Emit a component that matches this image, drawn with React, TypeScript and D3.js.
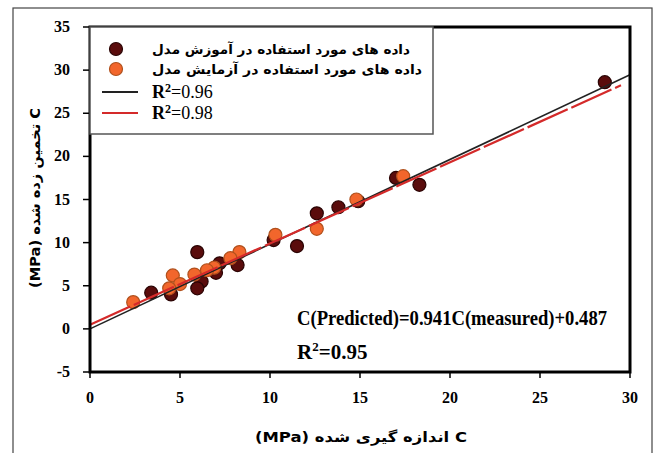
import React, { useEffect, useRef } from 'react';
import * as d3 from 'd3';

// training data (dark points)
const trainMeasured = [28.6, 18.3, 17.0, 14.9, 13.8, 12.6, 11.5, 10.2, 5.96, 8.2, 7.2, 7.0, 6.2, 5.96, 4.5, 3.4];
const trainPredicted = [28.6, 16.7, 17.5, 14.8, 14.1, 13.4, 9.6, 10.3, 8.9, 7.4, 7.6, 6.5, 5.5, 4.7, 4.0, 4.2];

// testing data (orange points)
const testMeasured = [17.4, 14.8, 12.6, 10.3, 8.3, 7.8, 6.9, 6.5, 5.8, 4.6, 5.0, 4.4, 2.4];
const testPredicted = [17.7, 15.0, 11.6, 10.9, 8.9, 8.2, 7.1, 6.8, 6.3, 6.2, 5.2, 4.7, 3.1];

// fit lines: [slope, intercept]
const trainFit = [0.982, 0.0];
const testFit = [0.941, 0.487];

const xTicks = [0, 5, 10, 15, 20, 25, 30];
const yTicks = [-5, 0, 5, 10, 15, 20, 25, 30, 35];

const legendLabels = [
  'داده های مورد استفاده در آموزش مدل',
  'داده های مورد استفاده در آزمایش مدل',
];
const legendR2 = ['0.96', '0.98'];

const xTitle = 'C اندازه گیری شده (MPa)';
const yTitle = 'C تخمین زده شده (MPa)';

const DARK = '#5a0c0c';
const DARK_EDGE = '#2a0404';
const ORANGE = '#f2662c';
const ORANGE_EDGE = '#b0501c';

export default function App() {
  const svgRef = useRef<SVGSVGElement>(null);

  useEffect(() => {
    if (!svgRef.current) return;
    const width = 657;
    const height = 453;
    const svg = d3.select(svgRef.current);
    svg.selectAll('*').remove();
    svg.attr('width', width).attr('height', height);

    const x = d3.scaleLinear().domain([0, 30]).range([90, 630]);
    const y = d3.scaleLinear().domain([-5, 35]).range([372, 27]);

    // outer frame
    svg.append('rect')
      .attr('x', 13).attr('y', 8)
      .attr('width', 639).attr('height', 450)
      .attr('fill', 'white')
      .attr('stroke', '#444')
      .attr('stroke-width', 1.2);

    const serif = '"Liberation Serif", "Times New Roman", serif';
    const arabic = '"DejaVu Sans", sans-serif';

    // y ticks + labels
    yTicks.forEach(t => {
      svg.append('line')
        .attr('x1', 83).attr('x2', 90)
        .attr('y1', y(t)).attr('y2', y(t))
        .attr('stroke', 'black').attr('stroke-width', 1.5);
      svg.append('text')
        .attr('x', 70).attr('y', y(t) + 5)
        .attr('text-anchor', 'end')
        .style('font-family', serif)
        .style('font-weight', 'bold')
        .style('font-size', '16px')
        .text(t);
    });

    // x ticks + labels
    xTicks.forEach(t => {
      svg.append('line')
        .attr('x1', x(t)).attr('x2', x(t))
        .attr('y1', 372).attr('y2', 378)
        .attr('stroke', 'black').attr('stroke-width', 1.5);
      svg.append('text')
        .attr('x', x(t)).attr('y', 403)
        .attr('text-anchor', 'middle')
        .style('font-family', serif)
        .style('font-weight', 'bold')
        .style('font-size', '16px')
        .text(t);
    });

    // axis titles
    svg.append('text')
      .attr('x', 361).attr('y', 442)
      .attr('text-anchor', 'middle')
      .attr('direction', 'rtl')
      .attr('textLength', 212)
      .attr('lengthAdjust', 'spacingAndGlyphs')
      .style('font-family', arabic)
      .style('font-weight', 'bold')
      .style('font-size', '14px')
      .text(xTitle);

    svg.append('text')
      .attr('transform', 'translate(40,198) rotate(-90)')
      .attr('text-anchor', 'middle')
      .attr('direction', 'rtl')
      .attr('textLength', 180)
      .attr('lengthAdjust', 'spacingAndGlyphs')
      .style('font-family', arabic)
      .style('font-weight', 'bold')
      .style('font-size', '14px')
      .text(yTitle);

    // points
    const plot = svg.append('g');
    plot.selectAll('.train')
      .data(d3.range(trainMeasured.length))
      .enter()
      .append('circle')
      .attr('cx', i => x(trainMeasured[i]))
      .attr('cy', i => y(trainPredicted[i]))
      .attr('r', 6.5)
      .attr('fill', DARK)
      .attr('stroke', DARK_EDGE)
      .attr('stroke-width', 1.2);

    plot.selectAll('.test')
      .data(d3.range(testMeasured.length))
      .enter()
      .append('circle')
      .attr('cx', i => x(testMeasured[i]))
      .attr('cy', i => y(testPredicted[i]))
      .attr('r', 6.5)
      .attr('fill', ORANGE)
      .attr('stroke', ORANGE_EDGE)
      .attr('stroke-width', 1.2);

    // fit lines
    const line = d3.line<number>().x(d => x(d));
    plot.append('path')
      .attr('d', line.y(d => y(trainFit[0] * d + trainFit[1]))([0, 30]))
      .attr('fill', 'none')
      .attr('stroke', '#222')
      .attr('stroke-width', 1.6);
    plot.append('path')
      .attr('d', line.y(d => y(testFit[0] * d + testFit[1]))([0, 29.5]))
      .attr('fill', 'none')
      .attr('stroke', '#d42a2a')
      .attr('stroke-width', 2.2)
      .attr('stroke-dasharray', '44,4');

    // plot box
    svg.append('rect')
      .attr('x', 90).attr('y', 27)
      .attr('width', 540).attr('height', 345)
      .attr('fill', 'none')
      .attr('stroke', 'black')
      .attr('stroke-width', 3);

    // legend
    const lg = svg.append('g');
    lg.append('rect')
      .attr('x', 90).attr('y', 27)
      .attr('width', 343).attr('height', 107)
      .attr('fill', 'white')
      .attr('stroke', '#555')
      .attr('stroke-width', 1.5);

    [[DARK, DARK_EDGE], [ORANGE, ORANGE_EDGE]].forEach((c, i) => {
      lg.append('circle')
        .attr('cx', 116).attr('cy', 49 + i * 20)
        .attr('r', 6.5)
        .attr('fill', c[0]).attr('stroke', c[1]).attr('stroke-width', 1.2);
      lg.append('text')
        .attr('x', i === 0 ? 410 : 422).attr('y', 54 + i * 20)
        .attr('text-anchor', 'start')
        .attr('direction', 'rtl')
        .attr('textLength', i === 0 ? 258 : 270)
        .attr('lengthAdjust', 'spacingAndGlyphs')
        .style('font-family', arabic)
        .style('font-weight', 'bold')
        .style('font-size', '13px')
        .text(legendLabels[i]);
    });

    ['#222', '#d42a2a'].forEach((c, i) => {
      const yy = 92 + i * 21;
      lg.append('line')
        .attr('x1', 102).attr('x2', 138)
        .attr('y1', yy).attr('y2', yy)
        .attr('stroke', c).attr('stroke-width', 2);
      const t = lg.append('text')
        .attr('x', 152).attr('y', yy + 6)
        .style('font-family', serif)
        .style('font-size', '18px');
      t.append('tspan').style('font-weight', 'bold').text('R');
      t.append('tspan').attr('dy', -6).style('font-size', '12px').style('font-weight', 'bold').text('2');
      t.append('tspan').attr('dy', 6).text('=' + legendR2[i]);
    });

    // equation
    svg.append('text')
      .attr('x', 297).attr('y', 325)
      .attr('textLength', 310)
      .attr('lengthAdjust', 'spacingAndGlyphs')
      .style('font-family', serif)
      .style('font-weight', 'bold')
      .style('font-size', '21px')
      .text(`C(Predicted)=${testFit[0]}C(measured)+${testFit[1]}`);

    const r2 = svg.append('text')
      .attr('x', 297).attr('y', 359)
      .style('font-family', serif)
      .style('font-weight', 'bold')
      .style('font-size', '21px');
    r2.append('tspan').text('R');
    r2.append('tspan').attr('dy', -8).style('font-size', '13px').text('2');
    r2.append('tspan').attr('dy', 8).text('=0.95');
  }, []);

  return (
    <svg ref={svgRef} style={{ position: 'absolute', left: 0, top: 0 }}></svg>
  );
}
